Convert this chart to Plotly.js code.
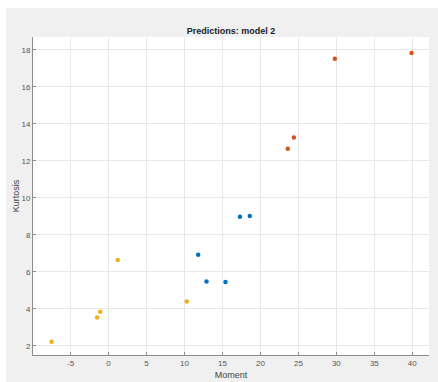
<!DOCTYPE html>
<html>
<head>
<meta charset="utf-8">
<script src="https://cdn.plot.ly/plotly-3.0.1.min.js"></script>
<style>html,body{margin:0;padding:0;background:#fff;}#chart{width:438px;height:382px;}</style>
</head>
<body>
<div id="chart"></div>
<script>
// Data
const orangeMoment = [-7.5, -1.5, -1.1, 1.2, 10.3];
const orangeKurtosis = [2.22, 3.53, 3.84, 6.64, 4.40];
const blueMoment = [11.8, 12.9, 15.4, 17.3, 18.6];
const blueKurtosis = [6.92, 5.48, 5.45, 8.98, 9.02];
const redMoment = [23.6, 24.4, 29.8, 39.9];
const redKurtosis = [12.66, 13.27, 17.53, 17.84];
const xTicks = [-5, 0, 5, 10, 15, 20, 25, 30, 35, 40];
const yTicks = [2, 4, 6, 8, 10, 12, 14, 16, 18];

const W = 438, H = 382;
const m = {l: 33, r: 9, t: 37, b: 27};
const pw = W - m.l - m.r, ph = H - m.t - m.b;

function mk(x, y, color) {
  return {x: x, y: y, type: 'scatter', mode: 'markers',
    marker: {color: color, size: 4.5}, showlegend: false, hoverinfo: 'skip'};
}

const data = [
  mk(orangeMoment, orangeKurtosis, '#EDB120'),
  mk(blueMoment, blueKurtosis, '#0072BD'),
  mk(redMoment, redKurtosis, '#D95319')
];

const axFont = {family: 'Liberation Sans, Arial, sans-serif', size: 8, color: '#555'};

const layout = {
  width: W, height: H,
  margin: m,
  paper_bgcolor: '#f0f0f0',
  plot_bgcolor: '#ffffff',
  showlegend: false,
  title: {text: '<b>Predictions: model 2</b>', x: 0.5, xref: 'paper', y: 1 - 31 / H, yanchor: 'middle',
    font: {family: 'Liberation Sans, Arial, sans-serif', size: 9, color: '#222'}},
  xaxis: {
    range: [-9.95, 42.2], tickvals: xTicks, ticktext: xTicks.map(String),
    showgrid: true, gridcolor: '#e8e8e8', gridwidth: 1, zeroline: false,
    showline: true, linecolor: '#8c8c8c', linewidth: 1, mirror: false,
    ticks: 'inside', ticklen: 3, tickcolor: '#8c8c8c',
    tickfont: axFont,
    title: {text: 'Moment', font: {family: 'Liberation Sans, Arial, sans-serif', size: 9, color: '#444'}, standoff: 5}
  },
  yaxis: {
    range: [1.5, 18.7], tickvals: yTicks, ticktext: yTicks.map(String),
    showgrid: true, gridcolor: '#e8e8e8', gridwidth: 1, zeroline: false,
    showline: true, linecolor: '#8c8c8c', linewidth: 1, mirror: false,
    ticks: 'inside', ticklen: 3, tickcolor: '#8c8c8c',
    tickfont: axFont,
    title: {text: 'Kurtosis', font: {family: 'Liberation Sans, Arial, sans-serif', size: 9, color: '#444'}, standoff: 0}
  },
  shapes: [
    {type: 'rect', xref: 'paper', yref: 'paper', layer: 'below',
      x0: -m.l / pw, x1: (6 - m.l) / pw, y0: -m.b / ph, y1: 1 + m.t / ph,
      fillcolor: '#ffffff', line: {width: 0}},
    {type: 'rect', xref: 'paper', yref: 'paper', layer: 'below',
      x0: -m.l / pw, x1: 1 + m.r / pw, y0: 1 + (m.t - 8) / ph, y1: 1 + m.t / ph,
      fillcolor: '#ffffff', line: {width: 0}}
  ]
};

Plotly.newPlot('chart', data, layout, {staticPlot: true, displayModeBar: false});
</script>
</body>
</html>
